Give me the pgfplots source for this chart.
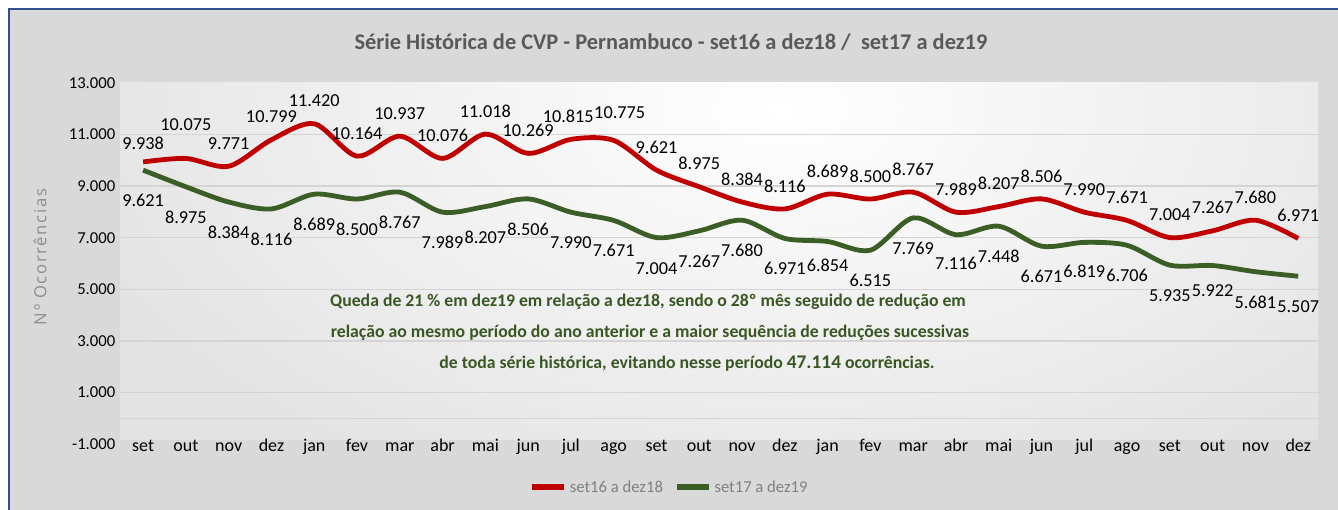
\documentclass[border=0pt]{standalone}
\usepackage{pgfplots}
\pgfplotsset{compat=1.18}
\usepackage{fontspec}
\setmainfont{Carlito}
\newfontfamily\ylfont[LetterSpace=10]{Open Sans}
\definecolor{redl}{HTML}{C00000}
\definecolor{greenl}{HTML}{3A5E26}
\definecolor{anngreen}{HTML}{385723}
\definecolor{titlegray}{HTML}{595959}
\definecolor{framebg}{HTML}{D9D9D9}
\definecolor{blueb}{HTML}{2F528F}
\definecolor{gridc}{HTML}{D4D4D4}
\definecolor{areabg}{HTML}{E3E3E3}

\pgfplotstableread{
x red green
0 9938 9621
1 10075 8975
2 9771 8384
3 10799 8116
4 11420 8689
5 10164 8500
6 10937 8767
7 10076 7989
8 11018 8207
9 10269 8506
10 10815 7990
11 10775 7671
12 9621 7004
13 8975 7267
14 8384 7680
15 8116 6971
16 8689 6854
17 8500 6515
18 8767 7769
19 7989 7116
20 8207 7448
21 8506 6671
22 7990 6819
23 7671 6706
24 7004 5935
25 7267 5922
26 7680 5681
27 6971 5507
}\datatable

\pgfplotsset{
  lbl/.style={forget plot, draw=none, no markers, nodes near coords,
    every node near coord/.append style={font=\fontsize{13.7}{16}\selectfont, text=black, anchor=south, yshift=#1}},
}

\begin{document}
\begin{tikzpicture}
\begin{scope}[x=0.75pt,y=-0.75pt,yshift=382.5pt]
  \fill[white] (0,0) rectangle (1338,510);
  \fill[framebg] (9,9) rectangle (1338,510);
  \begin{scope}
    \clip (120,83) rectangle (1318,440);
    \fill[areabg] (120,83) rectangle (1318,440);
    \shade[inner color=white, outer color=areabg] (780,110) ellipse [x radius=760, y radius=430];
  \end{scope}
  \draw[blueb, line width=1.5pt] (9,510) -- (9,9) -- (1338,9);
  \node[font=\bfseries\fontsize{16.8}{19}\selectfont, text=titlegray] at (671,42) {Série Histórica de CVP - Pernambuco - set16 a dez18 /\ \ set17 a dez19};
  \node[rotate=90, font=\ylfont\fontsize{12.5}{14}\selectfont, text=gray!90] at (40,257) {Nº Ocorrências};
\end{scope}

\begin{axis}[
  at={(90pt,49.5pt)}, anchor=south west,
  scale only axis, width=900pt, height=270.75pt,
  xmin=-0.54, xmax=27.51, ymin=-1000, ymax=13000,
  clip=false,
  axis line style={draw=none},
  major tick length=0pt,
  scaled y ticks=false,
  xtick={0,...,27},
  xticklabels={set,out,nov,dez,jan,fev,mar,abr,mai,jun,jul,ago,set,out,nov,dez,jan,fev,mar,abr,mai,jun,jul,ago,set,out,nov,dez},
  xticklabel style={font=\fontsize{13.5}{15}\selectfont, anchor=base, yshift=-5.5pt},
  ytick={1000,3000,...,11000},
  extra y ticks={-1000,13000},
  extra y tick style={grid=none},
  yticklabel style={font=\fontsize{12.5}{14}\selectfont},
  ymajorgrids,
  grid style={gridc, line width=1pt},
  /pgf/number format/1000 sep={.},
  /pgf/number format/assume math mode=true,
  legend style={at={(0.458,-0.12)}, anchor=center, draw=none, fill=none,
    legend columns=2, font=\fontsize{12.5}{14}\selectfont, text=gray,
    /tikz/every even column/.append style={column sep=6pt}},
  legend image code/.code={\draw[#1, line width=4.5pt] (0pt,0pt) -- (0.85cm,0pt);},
]
\draw[gridc, line width=1pt] (axis cs:-0.54,0) -- (axis cs:27.51,0);
\addplot[redl, line width=3.6pt, smooth, no markers]
  table[x=x, y=red] {\datatable};
\addlegendentry{set16 a dez18}
\addplot[greenl, line width=3.6pt, smooth, no markers]
  table[x=x, y=green] {\datatable};
\addlegendentry{set17 a dez19}
% data labels, red series (above the line)
\addplot[lbl=9pt] coordinates {
  (2,9771) (3,10799) (4,11420) (5,10164) (6,10937) (7,10076) (8,11018) (9,10269)
  (12,9621) (13,8975) (14,8384) (15,8116) (16,8689) (17,8500) (18,8767) (19,7989) (20,8207)
  (21,8506) (22,7990) (23,7671) (24,7004) (25,7267) (26,7680) (27,6971)};
\addplot[lbl=6pt] coordinates {(0,9938)};
\addplot[lbl=17pt] coordinates {(1,10075)};
\addplot[lbl=9pt, every node near coord/.append style={xshift=-2pt}] coordinates {(10,10815)};
\addplot[lbl=12.5pt, every node near coord/.append style={xshift=4.5pt}] coordinates {(11,10775)};
% data labels, green series (below the line)
\addplot[lbl=-31pt] coordinates {
  (0,9621) (1,8975) (2,8384) (3,8116) (4,8689) (5,8500) (6,8767) (7,7989) (8,8207) (9,8506)
  (10,7990) (11,7671) (12,7004) (13,7267) (14,7680) (15,6971) (17,6515) (18,7769) (20,7448)
  (21,6671) (23,6706) (24,5935) (26,5681) (27,5507)};
\addplot[lbl=-30pt] coordinates {(19,7116) (22,6819)};
\addplot[lbl=-26.5pt] coordinates {(16,6854)};
\addplot[lbl=-27pt] coordinates {(25,5922)};
\end{axis}

\begin{scope}[x=0.75pt,y=-0.75pt,yshift=382.5pt]
  \node[font=\bfseries\fontsize{13.3}{15}\selectfont, text=anngreen] at (648,302) {Queda de 21 \% em dez19 em relação a dez18, sendo o 28º mês seguido de redução em};
  \node[font=\bfseries\fontsize{13.3}{15}\selectfont, text=anngreen] at (650,333) {relação ao mesmo período do ano anterior e a maior sequência de reduções sucessivas};
  \node[font=\bfseries\fontsize{13.3}{15}\selectfont, text=anngreen] at (687,364) {de toda série histórica, evitando nesse período {\fontsize{14.5}{15}\selectfont 47.114} ocorrências.};
\end{scope}
\pgfresetboundingbox
\useasboundingbox (0,0) rectangle (1003.5pt,382.5pt);
\end{tikzpicture}
\end{document}
